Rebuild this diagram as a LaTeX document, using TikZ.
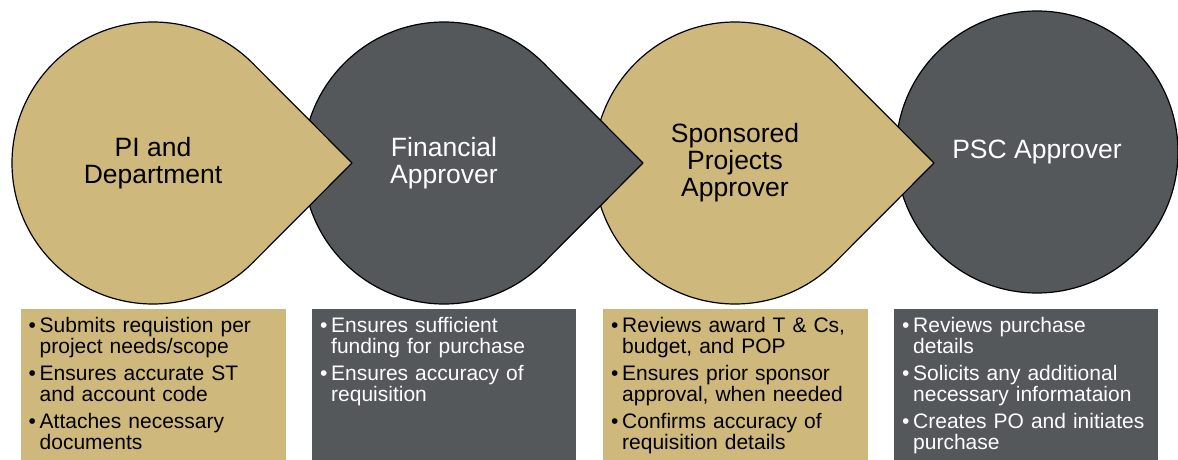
\documentclass[tikz,border=0pt]{standalone}
\usepackage{fontspec}
\setmainfont{Liberation Sans}
\definecolor{cugold}{RGB}{207,184,124}
\definecolor{cugray}{RGB}{84,88,91}
\newcommand\bpt[1]{\hangindent=11pt\hangafter=1\noindent\makebox[11pt][l]{\textbullet}#1\par}
\tikzset{
  drop/.style={draw=black, line width=1.2pt, line join=round},
  title/.style={font=\fontsize{26.5}{27}\selectfont, align=center, inner sep=0pt},
  list/.style={anchor=base west, inner sep=0pt, text width=250pt,
    font=\fontsize{21}{21.5}\selectfont, execute at begin node={\parskip=5pt\relax}},
}
\begin{document}
\begin{tikzpicture}[x=1pt, y=1pt]
        \useasboundingbox (0,0) rectangle (1178,-460);
        \fill[white] (0,0) rectangle (1178,-460);
        \draw[drop, fill=cugray] (1037,-152) circle[radius=141];
        \draw[drop, fill=cugold] (735,-163) ++(45:141) arc[start angle=45, end angle=315, radius=141] -- (934,-163) -- cycle;
        \draw[drop, fill=cugray] (444,-163) ++(45:141) arc[start angle=45, end angle=315, radius=141] -- (643,-163) -- cycle;
        \draw[drop, fill=cugold] (153,-163) ++(45:141) arc[start angle=45, end angle=315, radius=141] -- (352,-163) -- cycle;
        \node[title] (pi) at (153,-163) {PI and\\Department};
        \node[title, text=white] (fin) at (444,-163) {Financial\\Approver};
        \node[title] (spa) at (735,-163) {Sponsored\\Projects\\Approver};
        \node[title, text=white] (psc) at (1037,-152) {PSC Approver};
        \fill[cugold] (20.5,-309) rectangle (286,-460);
        \fill[cugray] (312,-309) rectangle (576,-460);
        \fill[cugold] (603,-309) rectangle (868,-460);
        \fill[cugray] (894,-309) rectangle (1158,-460);
        \node[list] (piList) at (28.5,-332) {\bpt{Submits requistion per\newline project needs/scope}\bpt{Ensures accurate ST\newline and account code}\bpt{Attaches necessary\newline documents}};
        \node[list, text=white] (finList) at (320,-332) {\bpt{Ensures sufficient\newline funding for purchase}\bpt{Ensures accuracy of\newline requisition}};
        \node[list] (spaList) at (611,-332) {\bpt{Reviews award T \& Cs,\newline budget, and POP}\bpt{Ensures prior sponsor\newline approval, when needed}\bpt{Confirms accuracy of\newline requisition details}};
        \node[list, text=white] (pscList) at (902,-332) {\bpt{Reviews purchase\newline details}\bpt{Solicits any additional\newline necessary informataion}\bpt{Creates PO and initiates\newline purchase}};
        \end{tikzpicture}
\end{document}
